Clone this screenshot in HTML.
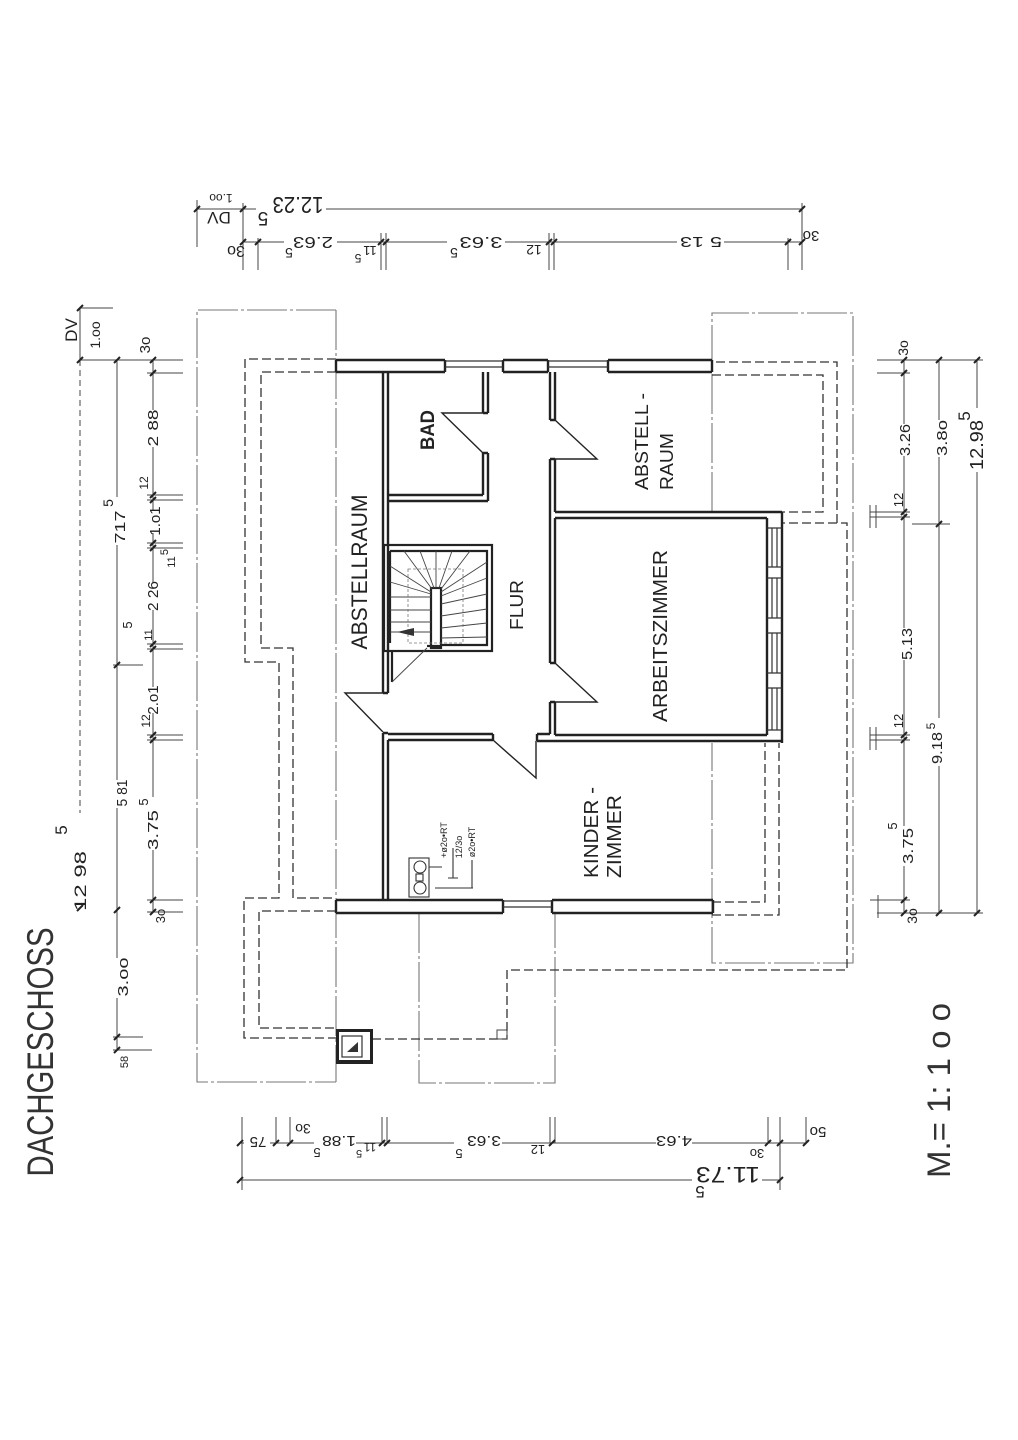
<!DOCTYPE html>
<html><head><meta charset="utf-8"><style>
html,body{margin:0;padding:0;background:#fff;}
svg{display:block;}
text{font-family:"Liberation Sans",sans-serif;fill:#222;}
</style></head><body>
<svg width="1018" height="1440" viewBox="0 0 1018 1440" xmlns="http://www.w3.org/2000/svg">
<rect width="1018" height="1440" fill="#fff"/>

<!-- roof outlines -->
<g fill="none" stroke="#777" stroke-width="1.1" stroke-dasharray="40 3 3 3">
<path d="M336,310 H197 V1082 H336"/>
<path d="M336,310 V1082"/>
<path d="M712,512 V313 H853 V963 H712 V743"/>
<path d="M419,913 V1083 H555 V913"/>
</g>

<!-- dashed outline of floor below -->
<g fill="none" stroke="#333" stroke-width="1.3" stroke-dasharray="9 4">
<path d="M336,359 H245 V662 H279 V898 H244 V1038 H336"/>
<path d="M336,372 H261 V648 H293 V898 H336"/>
<path d="M336,911 H259 V1028 H336"/>
<path d="M372,1039 H507 V970 H847 V523 H782"/>
<path d="M837,523 V362 H712"/>
<path d="M712,375 H823 V512 H782"/>
<path d="M712,902 H765 V743"/>
<path d="M712,915 H779 V743"/>
</g>
<rect x="497" y="1030" width="10" height="9" fill="none" stroke="#444" stroke-width="1"/>

<!-- walls -->
<g fill="none" stroke="#222" stroke-width="2.4">
<path d="M336,360 H445 M503,360 H548 M608,360 H712"/>
<path d="M336,372 H445 M503,372 H548 M608,372 H712"/>
<path d="M336,360 V372 M712,360 V372 M445,360 V372 M503,360 V372 M548,360 V372 M608,360 V372"/>
<path d="M336,900 H503 M552,900 H713"/>
<path d="M336,913 H503 M552,913 H713"/>
<path d="M336,900 V913 M713,900 V913 M503,900 V913 M552,900 V913"/>
<path d="M383,372 V693 M388,372 V693 M383,693 H388"/>
<path d="M383,733 V900 M388,740 V900 M383,733 H388"/>
<path d="M483,372 V413 M488,372 V413 M483,413 H488 M483,453 V495 M488,453 V501 M483,453 H488"/>
<path d="M388,495 H483 M388,501 H488"/>
<path d="M550,372 V420 M555,372 V420 M550,420 H555"/>
<path d="M550,459 V663 M555,459 V512 M555,518 V663 M550,459 H555 M550,663 H555"/>
<path d="M550,702 V734 M555,702 V735 M550,702 H555"/>
<path d="M555,512 H782 M555,518 H767"/>
<path d="M782,512 V743 M767,518 V735"/>
<path d="M555,735 H767 M537,741 H782"/>
<path d="M388,734 H493 M388,740 H493 M493,734 V740 M537,734 H550 M537,734 V741"/>
</g>
<!-- windows -->
<g fill="none" stroke="#333" stroke-width="1.2">
<path d="M445,361 H503 M445,367 H503 M548,361 H608 M548,367 H608"/>
<path d="M503,901 H552 M503,907 H552"/>
<path d="M772,528 V567 M777,528 V567 M767,528 H782 M767,567 H782"/>
<path d="M772,578 V618 M777,578 V618 M767,578 H782 M767,618 H782"/>
<path d="M772,633 V673 M777,633 V673 M767,633 H782 M767,673 H782"/>
<path d="M772,688 V730 M777,688 V730 M767,688 H782 M767,730 H782"/>
</g>

<!-- doors -->
<g fill="none" stroke="#222" stroke-width="1.4">
<path d="M483,413 H442 L483,453"/>
<path d="M555,420 L597,459 H552"/>
<path d="M555,663 L597,702 H550"/>
<path d="M383,693 H345 L383,732"/>
<path d="M493,740 L536,778 V741"/>
</g>

<!-- stairs -->
<g fill="none" stroke="#222" stroke-width="2.2">
<rect x="384" y="545" width="108" height="106"/>
<path d="M390,551 H487 V645 H441"/>
<path d="M390,551 V643"/>
<rect x="431" y="588" width="10" height="60"/>
<path d="M427,646 H441"/>
<path d="M392,651 V682"/>
</g>
<g fill="none" stroke="#444" stroke-width="0.9">
<path d="M431,592 L390,566 M431,594 L390,582 M432,589 L404,551 M434,588 L420,551 M436,588 V551 M439,588 L452,551 M441,589 L470,551 M441,592 L487,562 M441,596 L487,578"/>
<path d="M390,597 H431 M390,610 H431 M390,622 H431 M390,632 H431"/>
<path d="M441,604 L487,594 M441,616 L487,609 M441,628 L487,623 M441,638 L487,637"/>
<path d="M427,648 L392,682"/>
</g>
<rect x="408" y="569" width="55" height="74" fill="none" stroke="#777" stroke-width="0.8" stroke-dasharray="3 2"/>
<polygon points="397,632 414,628 414,636" fill="#333"/>

<!-- chimney -->
<rect x="337.5" y="1030.5" width="34" height="32" fill="none" stroke="#222" stroke-width="3"/>
<path d="M336,1062 H373" stroke="#222" stroke-width="4"/>
<rect x="342" y="1036" width="20" height="21" fill="none" stroke="#333" stroke-width="1.2"/>
<polygon points="358,1042 358,1052 347,1052" fill="#333"/>

<!-- flue -->
<g fill="none" stroke="#333" stroke-width="1.1">
<rect x="409" y="858" width="20" height="39"/>
<circle cx="420" cy="867" r="6"/>
<rect x="416" y="874" width="7" height="7"/>
<circle cx="420" cy="888" r="6"/>
<path d="M429,867 H442 M453,848 V878 M448,878 H458 M435,888 H473 M472,860 V888"/>
</g>
<g font-size="9">
<text transform="translate(447,840) rotate(-90)" text-anchor="middle">+ø2o•RT</text>
<text transform="translate(462,847) rotate(-90)" text-anchor="middle">12/3o</text>
<text transform="translate(475,842) rotate(-90)" text-anchor="middle">ø2o•RT</text>
</g>

<!-- room labels -->
<text transform="translate(434,430) rotate(-90)" text-anchor="middle" font-size="19" font-weight="bold" textLength="40" lengthAdjust="spacingAndGlyphs">BAD</text>
<text transform="translate(367,572) rotate(-90)" text-anchor="middle" font-size="22" textLength="155" lengthAdjust="spacingAndGlyphs">ABSTELLRAUM</text>
<text transform="translate(523,605) rotate(-90)" text-anchor="middle" font-size="18" textLength="50" lengthAdjust="spacingAndGlyphs">FLUR</text>
<text transform="translate(648,490) rotate(-90)" font-size="18" textLength="97" lengthAdjust="spacingAndGlyphs">ABSTELL -</text>
<text transform="translate(673,490) rotate(-90)" font-size="18" textLength="57" lengthAdjust="spacingAndGlyphs">RAUM</text>
<text transform="translate(667,636) rotate(-90)" text-anchor="middle" font-size="20" textLength="172" lengthAdjust="spacingAndGlyphs">ARBEITSZIMMER</text>
<text transform="translate(598,878) rotate(-90)" font-size="20" textLength="91" lengthAdjust="spacingAndGlyphs">KINDER -</text>
<text transform="translate(621,878) rotate(-90)" font-size="20" textLength="83" lengthAdjust="spacingAndGlyphs">ZIMMER</text>

<text transform="translate(53,1052) rotate(-90)" text-anchor="middle" font-size="37" textLength="249" lengthAdjust="spacingAndGlyphs" style="fill:#333">DACHGESCHOSS</text>
<text transform="translate(950,1178) rotate(-90)" font-size="32" textLength="175" lengthAdjust="spacingAndGlyphs" style="fill:#333">M.= 1: 1 o o</text>

<!-- dimension lines -->
<g fill="none" stroke="#444" stroke-width="1">
<!-- top -->
<path d="M197,200 V247 M243,203 V270 M258,238 V270 M381,233 V270 M386,233 V270 M549,233 V270 M554,233 V270 M788,238 V270 M802,203 V270"/>
<path d="M197,209 H256 M326,209 H802"/>
<path d="M243,242 H284 M337,242 H447 M505,242 H677 M724,242 H802"/>
<!-- left -->
<path d="M80,308 V360 M80,308 H113 M80,360 H183 M147,373 H183"/>
<path d="M80,360 V813" stroke-dasharray="6 4"/>
<path d="M117,360 V497 M117,545 V665 M113,665 H143 M117,665 V780 M117,808 V958 M117,998 V1050 M113,1037 H143 M113,1050 H152"/>
<path d="M153,360 V410 M153,447 V510 M153,533 V583 M153,610 V687 M153,713 V797 M153,850 V912"/>
<path d="M147,495 H183 M147,500 H183 M147,543 H183 M147,548 H183 M147,644 H183 M147,649 H183 M147,735 H183 M147,740 H183 M147,900 H183 M147,912 H183"/>
<!-- right -->
<path d="M904,360 V424 M904,456 V628 M904,660 V826 M904,866 V913"/>
<path d="M939,360 V420 M939,457 V718 M939,766 V913"/>
<path d="M977,360 V408 M977,472 V913"/>
<path d="M877,360 H983 M877,373 H910 M870,512 H910 M870,517 H910 M912,524 H950 M870,735 H910 M870,740 H910 M870,900 H910 M877,913 H983"/>
<path d="M870,505 V528 M876,505 V528 M870,727 V750 M876,727 V750 M878,895 V918"/>
<!-- bottom -->
<path d="M242,1117 V1190 M276,1117 V1143 M290,1117 V1143 M382,1117 V1143 M387,1117 V1143 M550,1117 V1143 M555,1117 V1143 M768,1117 V1143 M780,1117 V1190 M806,1117 V1143"/>
<path d="M240,1143 H244 M270,1143 H314 M356,1143 H454 M502,1143 H656 M692,1143 H806"/>
<path d="M240,1180 H692 M762,1180 H780"/>
</g>
<!-- ticks -->
<g stroke="#222" stroke-width="2" fill="none">
<path d="M194,212 L200,206 M240,212 L246,206 M799,212 L805,206"/>
<path d="M240,245 L246,239 M255,245 L261,239 M378,245 L384,239 M383,245 L389,239 M546,245 L552,239 M551,245 L557,239 M785,245 L791,239 M799,245 L805,239"/>
<path d="M77,311 L83,305 M77,363 L83,357 M77,911 L83,905"/>
<path d="M114,363 L120,357 M114,668 L120,662 M114,913 L120,907 M114,1040 L120,1034 M114,1053 L120,1047"/>
<path d="M150,363 L156,357 M150,376 L156,370 M150,498 L156,492 M150,503 L156,497 M150,546 L156,540 M150,551 L156,545 M150,647 L156,641 M150,652 L156,646 M150,738 L156,732 M150,743 L156,737 M150,903 L156,897 M150,915 L156,909"/>
<path d="M901,363 L907,357 M901,376 L907,370 M901,515 L907,509 M901,520 L907,514 M901,738 L907,732 M901,743 L907,737 M901,903 L907,897 M901,916 L907,910"/>
<path d="M936,363 L942,357 M936,527 L942,521 M936,916 L942,910"/>
<path d="M974,363 L980,357 M974,916 L980,910"/>
<path d="M237,1146 L243,1140 M273,1146 L279,1140 M287,1146 L293,1140 M379,1146 L385,1140 M384,1146 L390,1140 M549,1146 L555,1140 M765,1146 L771,1140 M777,1146 L783,1140 M803,1146 L809,1140"/>
<path d="M237,1183 L243,1177 M777,1183 L783,1177"/>
</g>

<!-- top labels (upside down) -->
<g text-anchor="middle">
<text transform="translate(221,194) rotate(180)" font-size="12">1.oo</text>
<text transform="translate(219,212) rotate(180)" font-size="17">DV</text>
<text transform="translate(263,212) rotate(180)" font-size="19">5</text>
<text transform="translate(298,197) rotate(180)" font-size="23" textLength="51" lengthAdjust="spacingAndGlyphs">12.23</text>
<text transform="translate(236,246) rotate(180)" font-size="16">3o</text>
<text transform="translate(313,237) rotate(180)" font-size="16" textLength="40" lengthAdjust="spacingAndGlyphs">2.63</text>
<text transform="translate(289,248) rotate(180)" font-size="14">5</text>
<text transform="translate(370,246) rotate(180)" font-size="13">11</text>
<text transform="translate(358,254) rotate(180)" font-size="12">5</text>
<text transform="translate(481,237) rotate(180)" font-size="16" textLength="43" lengthAdjust="spacingAndGlyphs">3.63</text>
<text transform="translate(454,248) rotate(180)" font-size="14">5</text>
<text transform="translate(534,245) rotate(180)" font-size="14">12</text>
<text transform="translate(701,237) rotate(180)" font-size="15" textLength="42" lengthAdjust="spacingAndGlyphs">5 13</text>
<text transform="translate(811,231) rotate(180)" font-size="15">3o</text>

<!-- bottom labels (upside down) -->
<text transform="translate(258,1137) rotate(180)" font-size="15">75</text>
<text transform="translate(303,1124) rotate(180)" font-size="14">3o</text>
<text transform="translate(339,1136) rotate(180)" font-size="15" textLength="34" lengthAdjust="spacingAndGlyphs">1.88</text>
<text transform="translate(317,1148) rotate(180)" font-size="13">5</text>
<text transform="translate(370,1143) rotate(180)" font-size="12">11</text>
<text transform="translate(359,1150) rotate(180)" font-size="11">5</text>
<text transform="translate(484,1136) rotate(180)" font-size="15" textLength="34" lengthAdjust="spacingAndGlyphs">3.63</text>
<text transform="translate(459,1149) rotate(180)" font-size="13">5</text>
<text transform="translate(538,1145) rotate(180)" font-size="13">12</text>
<text transform="translate(674,1136) rotate(180)" font-size="15" textLength="36" lengthAdjust="spacingAndGlyphs">4.63</text>
<text transform="translate(757,1149) rotate(180)" font-size="13">3o</text>
<text transform="translate(818,1127) rotate(180)" font-size="15">5o</text>
<text transform="translate(728,1167) rotate(180)" font-size="22" textLength="64" lengthAdjust="spacingAndGlyphs">11.73</text>
<text transform="translate(700,1186) rotate(180)" font-size="17">5</text>

<!-- left labels -->
<text transform="translate(77,330) rotate(-90)" font-size="17">DV</text>
<text transform="translate(100,335) rotate(-90)" font-size="14">1.oo</text>
<text transform="translate(150,345) rotate(-90)" font-size="15">3o</text>
<text transform="translate(158,428) rotate(-90)" font-size="15" textLength="37" lengthAdjust="spacingAndGlyphs">2 88</text>
<text transform="translate(148,483) rotate(-90)" font-size="12">12</text>
<text transform="translate(160,521) rotate(-90)" font-size="15">1.o1</text>
<text transform="translate(175,562) rotate(-90)" font-size="11">11</text>
<text transform="translate(168,552) rotate(-90)" font-size="11">5</text>
<text transform="translate(125,527) rotate(-90)" font-size="15" textLength="33" lengthAdjust="spacingAndGlyphs">717</text>
<text transform="translate(113,503) rotate(-90)" font-size="14">5</text>
<text transform="translate(158,596) rotate(-90)" font-size="15" textLength="30" lengthAdjust="spacingAndGlyphs">2 26</text>
<text transform="translate(152,635) rotate(-90)" font-size="11">11</text>
<text transform="translate(132,625) rotate(-90)" font-size="13">5</text>
<text transform="translate(158,700) rotate(-90)" font-size="15">2.o1</text>
<text transform="translate(150,721) rotate(-90)" font-size="12">12</text>
<text transform="translate(158,830) rotate(-90)" font-size="15" textLength="40" lengthAdjust="spacingAndGlyphs">3.75</text>
<text transform="translate(148,802) rotate(-90)" font-size="13">5</text>
<text transform="translate(165,916) rotate(-90)" font-size="13">3o</text>
<text transform="translate(127,793) rotate(-90)" font-size="15" textLength="27" lengthAdjust="spacingAndGlyphs">5 81</text>
<text transform="translate(86,881) rotate(-90)" font-size="17" textLength="60" lengthAdjust="spacingAndGlyphs">12 98</text>
<text transform="translate(67,830) rotate(-90)" font-size="17">5</text>
<text transform="translate(128,977) rotate(-90)" font-size="15" textLength="39" lengthAdjust="spacingAndGlyphs">3.oo</text>
<text transform="translate(128,1062) rotate(-90)" font-size="11">58</text>

<!-- right labels -->
<text transform="translate(908,348) rotate(-90)" font-size="14">3o</text>
<text transform="translate(910,440) rotate(-90)" font-size="15" textLength="32" lengthAdjust="spacingAndGlyphs">3.26</text>
<text transform="translate(903,500) rotate(-90)" font-size="13">12</text>
<text transform="translate(912,644) rotate(-90)" font-size="15" textLength="32" lengthAdjust="spacingAndGlyphs">5.13</text>
<text transform="translate(903,721) rotate(-90)" font-size="13">12</text>
<text transform="translate(913,846) rotate(-90)" font-size="15" textLength="36" lengthAdjust="spacingAndGlyphs">3.75</text>
<text transform="translate(897,826) rotate(-90)" font-size="13">5</text>
<text transform="translate(917,916) rotate(-90)" font-size="14">3o</text>
<text transform="translate(947,438) rotate(-90)" font-size="15" textLength="36" lengthAdjust="spacingAndGlyphs">3.8o</text>
<text transform="translate(942,748) rotate(-90)" font-size="15" textLength="32" lengthAdjust="spacingAndGlyphs">9.18</text>
<text transform="translate(935,726) rotate(-90)" font-size="12">5</text>
<text transform="translate(983,445) rotate(-90)" font-size="18" textLength="50" lengthAdjust="spacingAndGlyphs">12.98</text>
<text transform="translate(970,416) rotate(-90)" font-size="17">5</text>
</g>
</svg>
</body></html>
